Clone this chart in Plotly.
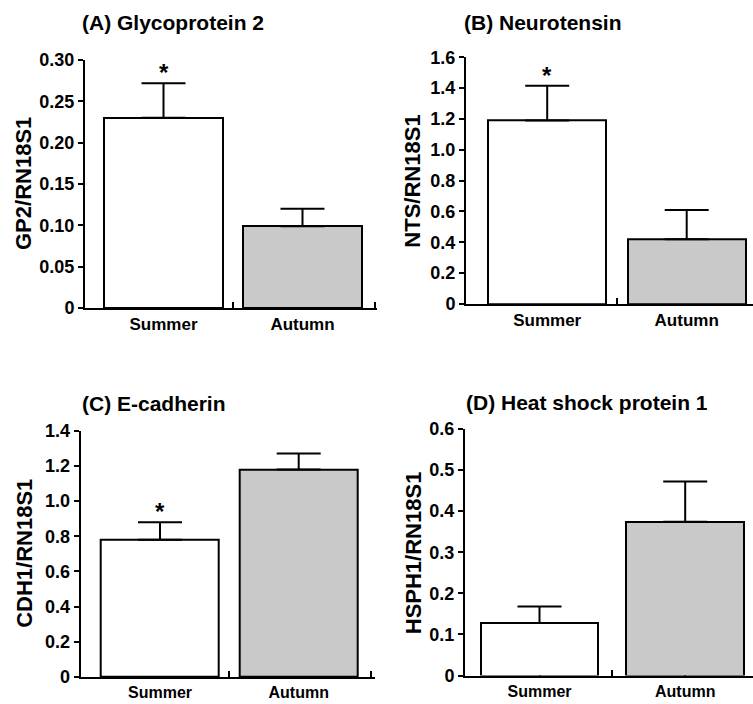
import plotly.graph_objects as go

# ---------------- data ----------------
categories = ["Summer", "Autumn"]

gp2_mean = [0.230, 0.099]
gp2_sem = [0.042, 0.021]

nts_mean = [1.19, 0.42]
nts_sem = [0.226, 0.19]

cdh1_mean = [0.78, 1.18]
cdh1_sem = [0.10, 0.09]

hsph1_mean = [0.128, 0.374]
hsph1_sem = [0.040, 0.098]

panel_titles = ["(A) Glycoprotein 2", "(B) Neurotensin", "(C) E-cadherin", "(D) Heat shock protein 1"]
y_labels = ["GP2/RN18S1", "NTS/RN18S1", "CDH1/RN18S1", "HSPH1/RN18S1"]

yticks_A = ["0", "0.05", "0.10", "0.15", "0.20", "0.25", "0.30"]
yticks_B = ["0", "0.2", "0.4", "0.6", "0.8", "1.0", "1.2", "1.4", "1.6"]
yticks_C = ["0", "0.2", "0.4", "0.6", "0.8", "1.0", "1.2", "1.4"]
yticks_D = ["0", "0.1", "0.2", "0.3", "0.4", "0.5", "0.6"]

significant = [[True, False], [True, False], [True, False], [False, False]]

means = [gp2_mean, nts_mean, cdh1_mean, hsph1_mean]
sems = [gp2_sem, nts_sem, cdh1_sem, hsph1_sem]
yticks = [yticks_A, yticks_B, yticks_C, yticks_D]

# ---------------- layout geometry (pixels) ----------------
W, H = 753, 704
geom = [
    dict(l=85, r=377, t=60, b=308, c0=163.5, s=139.0, bw=118.4, tx=80, ty=22, ax=23, fs=17),
    dict(l=466, r=753, t=57.3, b=304, c0=547.2, s=139.5, bw=117.7, tx=462, ty=22, ax=413, fs=17),
    dict(l=80.7, r=375, t=430.7, b=677, c0=160.0, s=138.7, bw=118.0, tx=80, ty=403, ax=25, fs=16),
    dict(l=465, r=753, t=429, b=675.5, c0=539.5, s=145.7, bw=117.6, tx=464, ty=402, ax=413, fs=16),
]

FONT = "Liberation Sans, Arial, sans-serif"
bar_colors = ["white", "#c9c9c9"]

fig = go.Figure()
annotations = []
layout_axes = {}

xpos = list(range(len(categories)))
# category centres plus the boundary ticks between / after them
xtick_vals = [0, 0.5, 1, 1.52]
xtick_text = [categories[0], "", categories[1], ""]

for i in range(4):
    g = geom[i]
    xa = "x" if i == 0 else f"x{i+1}"
    ya = "y" if i == 0 else f"y{i+1}"
    xkey = "xaxis" if i == 0 else f"xaxis{i+1}"
    ykey = "yaxis" if i == 0 else f"yaxis{i+1}"

    fig.add_trace(go.Bar(
        x=xpos, y=means[i], width=g["bw"] / g["s"],
        marker=dict(color=bar_colors, line=dict(color="black", width=2)),
        error_y=dict(type="data", symmetric=False, array=sems[i], arrayminus=[0, 0],
                     color="black", thickness=2, width=22),
        xaxis=xa, yaxis=ya, showlegend=False, hoverinfo="skip",
    ))

    x0 = (g["l"] - g["c0"]) / g["s"]
    x1 = (g["r"] - g["c0"]) / g["s"]
    layout_axes[xkey] = dict(
        domain=[g["l"] / W, g["r"] / W], range=[x0, x1], anchor=ya,
        tickmode="array", tickvals=xtick_vals, ticktext=xtick_text,
        ticks="inside", ticklen=6, tickwidth=2, tickcolor="black",
        layer="below traces", automargin=False,
        showline=True, linecolor="black", linewidth=2, showgrid=False, zeroline=False,
        tickfont=dict(family=FONT, size=g["fs"], color="black", weight="bold"),
        fixedrange=True,
    )
    tv = [float(t) for t in yticks[i]]
    layout_axes[ykey] = dict(
        domain=[(H - g["b"]) / H, (H - g["t"]) / H], range=[0, tv[-1]], anchor=xa,
        tickmode="array", tickvals=tv, ticktext=yticks[i], ticks="outside",
        ticklen=5, tickwidth=2, tickcolor="black", automargin=False,
        showline=True, linecolor="black", linewidth=2, showgrid=False, zeroline=False,
        tickfont=dict(family=FONT, size=18, color="black", weight="bold"),
        fixedrange=True,
    )

    annotations.append(dict(
        text=panel_titles[i], xref="paper", yref="paper",
        x=g["tx"] / W, y=(H - g["ty"]) / H, xanchor="left", yanchor="middle",
        showarrow=False, font=dict(family=FONT, size=21, color="black", weight="bold"),
    ))
    annotations.append(dict(
        text=y_labels[i], xref="paper", yref="paper", textangle=-90,
        x=g["ax"] / W, y=(H - (g["t"] + g["b"]) / 2) / H, xanchor="center", yanchor="middle",
        showarrow=False, font=dict(family=FONT, size=22, color="black", weight="bold"),
    ))
    for j, sig in enumerate(significant[i]):
        if sig:
            annotations.append(dict(
                text="*", xref=xa, yref=ya, x=xpos[j], y=means[i][j] + sems[i][j],
                xanchor="center", yanchor="bottom", yshift=-5, showarrow=False,
                font=dict(family=FONT, size=24, color="black", weight="bold"),
            ))

fig.update_layout(
    width=W, height=H, margin=dict(l=0, r=0, t=0, b=0, autoexpand=False),
    paper_bgcolor="white", plot_bgcolor="white",
    annotations=annotations, bargap=0,
    **layout_axes,
)

fig.write_html("out.html", post_script="document.body.style.margin='0px';",
               config={"displayModeBar": False})
